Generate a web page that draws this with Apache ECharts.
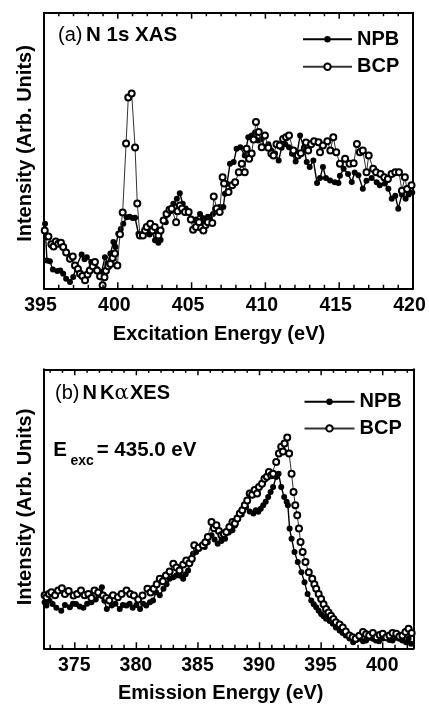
<!DOCTYPE html>
<html><head><meta charset="utf-8">
<script src="https://cdn.jsdelivr.net/npm/echarts@6/dist/echarts.min.js"></script>
<style>html,body{margin:0;padding:0;background:#fff}#c{width:429px;height:705px}</style>
</head><body><div id="c"></div>
<script>
// ---- Data (energy eV, intensity arb. units 0-100) ----
const xasNPB = [[395.07,23.4],[395.2,10.1],[395.4,9.8],[395.6,6.8],[395.9,6.3],[396.1,6.5],[396.3,5.3],[396.5,3.5],[396.76,2.3],[396.98,4.1],[397.2,8],[397.55,12.3],[397.75,10.5],[397.9,11.3],[398.2,9.5],[398.5,7.5],[398.7,6],[398.9,5.9],[399.13,11.3],[399.3,9],[399.5,12.6],[399.7,16.8],[399.85,15],[400.03,19.8],[400.2,21.5],[400.37,23.4],[400.6,25.8],[400.8,26],[401.0,25.5],[401.17,25.6],[401.4,19.8],[401.6,19],[401.8,20.5],[401.96,21.6],[402.15,19.5],[402.3,21],[402.52,17.4],[402.75,16.5],[402.9,17.5],[403.08,24.6],[403.25,24],[403.4,27],[403.6,28],[403.76,30.7],[404.0,32.5],[404.2,34.5],[404.4,30.7],[404.6,29],[404.8,27.7],[405.1,24.6],[405.3,25],[405.57,27],[405.75,25.5],[405.9,24.6],[406.1,26],[406.25,25.8],[406.45,27],[406.6,28.9],[406.9,29.5],[407.15,29.5],[407.26,34.3],[407.4,37.9],[407.6,45.2],[407.85,45.8],[408.05,50.6],[408.3,51.2],[408.6,48.2],[408.84,54.8],[409.07,55.4],[409.3,56.5],[409.5,53.6],[409.75,54.2],[409.97,51.2],[410.2,52.3],[410.4,50],[410.65,48.9],[410.9,46.4],[411.1,51],[411.35,52.3],[411.6,51.2],[411.8,48.8],[412.05,46],[412.35,55.4],[412.6,51],[412.8,45.8],[413.0,44],[413.25,46.4],[413.5,38.2],[413.7,40],[413.9,44],[414.1,40],[414.38,39.1],[414.7,38.5],[414.95,38.2],[415.05,40.8],[415.3,43.4],[415.6,41.5],[415.85,38.6],[416.05,42],[416.3,41],[416.6,36.1],[416.85,39],[417.2,40],[417.54,38.5],[417.75,37.4],[418.1,38],[418.33,36.1],[418.56,32.5],[418.8,33.6],[419.0,28.9],[419.25,34],[419.5,32.5],[419.7,34],[419.95,34.8]];
const xasBCP = [[395.05,21],[395.3,18.8],[395.5,16],[395.65,15.2],[395.8,17],[395.97,16.2],[396.15,16.5],[396.3,15],[396.5,13],[396.76,10.7],[396.95,11.5],[397.1,8.3],[397.3,7],[397.44,5.3],[397.6,4.5],[397.78,2.9],[397.95,5],[398.1,6.5],[398.3,8],[398.45,9.5],[398.6,6.5],[398.8,4.4],[398.97,1.1],[399.1,4],[399.2,6.4],[399.35,8],[399.5,8.8],[399.65,11],[399.8,12.6],[399.97,8.3],[400.15,19.6],[400.33,27.5],[400.56,52.5],[400.71,69.2],[400.94,70.7],[401.17,51.1],[401.32,30.8],[401.5,19.2],[401.7,19.2],[401.85,21],[401.96,22.2],[402.2,23.4],[402.35,21],[402.5,22.2],[402.75,19.2],[402.9,21],[403.1,24.6],[403.3,27],[403.5,28.5],[403.65,28.9],[403.95,24],[404.05,28],[404.2,30],[404.35,29],[404.55,27.7],[404.8,27.7],[404.95,25],[405.1,21.2],[405.3,22.2],[405.5,24],[405.65,22],[405.8,21],[405.95,23],[406.1,24],[406.4,23.7],[406.5,33.3],[406.7,29],[406.9,27.7],[407.1,40.3],[407.2,38],[407.5,34.9],[407.75,37.4],[407.95,38.5],[408.2,42.1],[408.4,45.2],[408.6,42.1],[408.73,50.6],[408.9,47],[409.07,48.9],[409.2,54],[409.36,60.3],[409.55,56.7],[409.75,51.2],[409.97,55.4],[410.2,51],[410.4,48.9],[410.55,48.2],[410.75,52.3],[410.97,51.8],[411.2,54.2],[411.4,54.8],[411.6,55.4],[411.9,50],[412.2,48.2],[412.4,49],[412.75,52.9],[412.9,50],[413.1,52.3],[413.3,53.4],[413.6,53],[413.7,49.4],[413.9,51.8],[414.2,53.4],[414.4,50],[414.6,54.8],[414.8,49.4],[415.05,45.2],[415.4,47],[415.7,45.2],[415.98,45.4],[416.2,52.4],[416.4,49.4],[416.6,50],[416.85,42.1],[417.0,48.2],[417.3,43.4],[417.5,42.1],[417.8,41.5],[418.05,40.3],[418.3,39.7],[418.55,41.5],[418.8,42.1],[419.05,42.1],[419.25,35.4],[419.45,40.3],[419.6,36],[419.9,37.4]];
const xesNPB = [[372.55,16.5],[372.7,15.3],[372.95,17],[373.2,15.9],[373.5,14.5],[373.9,13.5],[374.2,15.5],[374.6,14.7],[374.85,16],[375.1,15.9],[375.4,15],[375.7,14.5],[376.0,16],[376.35,16.5],[376.7,17.5],[376.95,19],[377.2,21.9],[377.4,17],[377.6,14.1],[378.0,15.3],[378.3,16],[378.65,14.1],[378.9,15.5],[379.2,15.3],[379.45,16],[379.7,14.5],[380.0,15.5],[380.3,14.1],[380.55,16],[380.8,15.3],[381.1,16.5],[381.35,17.1],[381.6,20.1],[381.9,19],[382.2,21.3],[382.45,23],[382.7,24.9],[383.0,25.5],[383.25,26.1],[383.55,26],[383.8,24.9],[384.0,26.5],[384.2,27.9],[384.4,31],[384.6,33.9],[384.85,34.5],[385.1,35.7],[385.35,37],[385.55,36.3],[385.8,38],[386.1,40.5],[386.35,39],[386.6,37.5],[386.9,38.5],[387.2,39.3],[387.5,41.5],[387.8,42.3],[388.0,44],[388.25,47.1],[388.55,48],[388.9,50.6],[389.2,49],[389.5,48.3],[389.7,49.5],[389.9,48.9],[390.1,50],[390.3,51.3],[390.5,52.5],[390.7,54.2],[390.9,56],[391.1,57.8],[391.35,61.4],[391.55,62.6],[391.76,57.8],[392.0,54.2],[392.2,52.5],[392.3,51.3],[392.44,42.9],[392.6,39.3],[392.84,34.5],[393.1,30.9],[393.4,27.3],[393.65,23.7],[393.9,19.5],[394.2,17.1],[394.4,15.8],[394.6,14.7],[394.8,13.5],[395.0,12.3],[395.2,11.5],[395.4,10.6],[395.7,9.8],[395.95,8.8],[396.2,7.5],[396.5,6.4],[396.75,5.5],[397.0,4.6],[397.3,3.5],[397.6,2.2],[397.85,3],[398.1,3.4],[398.4,2.5],[398.65,2.8],[398.9,3.8],[399.2,3.4],[399.45,2.8],[399.7,2.5],[400.0,3.5],[400.3,4.0],[400.55,3],[400.8,2.8],[401.1,3.8],[401.35,3.4],[401.6,2.8],[401.9,2.2],[402.1,3.5],[402.3,1.6]];
const xesBCP = [[372.55,19],[372.7,18.3],[372.9,19.5],[373.1,20.1],[373.4,19],[373.65,20.7],[373.95,21.5],[374.2,19.5],[374.5,20.5],[374.9,18.9],[375.2,19.5],[375.5,20.7],[375.8,19],[376.1,19.5],[376.35,18],[376.6,20.7],[376.9,20],[377.3,18.9],[377.55,18],[377.8,17.1],[378.1,19],[378.5,18.3],[378.8,19.5],[379.2,20.7],[379.5,19.5],[379.8,18.9],[380.15,17.5],[380.5,18.9],[380.9,21.3],[381.15,20],[381.4,21.3],[381.65,23],[381.9,24.9],[382.15,24],[382.4,26.1],[382.7,27.5],[383.0,30.3],[383.25,29],[383.5,27.9],[383.8,30],[384.05,31.5],[384.3,30.5],[384.5,32.1],[384.7,36.9],[385.05,36],[385.4,36.9],[385.6,38],[385.8,39.9],[386.1,45.3],[386.3,43],[386.5,44.1],[386.7,42],[386.9,40.5],[387.1,41],[387.3,41.7],[387.55,43.5],[387.8,45.3],[388.0,44.7],[388.2,46.5],[388.4,48.3],[388.6,49.5],[388.8,51.3],[389.0,53],[389.2,55.5],[389.4,55],[389.6,56.7],[389.8,55.5],[389.95,57.8],[390.2,59],[390.4,60.8],[390.6,61.5],[390.76,63.2],[390.95,62],[391.1,62.6],[391.35,66.8],[391.57,69.8],[391.76,72.2],[391.9,70.5],[392.03,73.4],[392.25,75.6],[392.4,69.8],[392.6,62.6],[392.76,56],[392.9,51.3],[393.06,47.7],[393.2,42.9],[393.33,38.1],[393.5,34.5],[393.73,30.9],[394.0,27.3],[394.28,24.9],[394.45,23],[394.6,21.3],[394.8,19.5],[395.0,17.7],[395.2,15.8],[395.4,14.1],[395.6,12.8],[395.8,11.7],[396.0,10.5],[396.2,9.3],[396.5,8.5],[396.76,7.5],[397.0,6],[397.3,4.6],[397.55,4],[397.8,3.4],[398.1,4.5],[398.4,5.8],[398.65,5],[398.9,4.6],[399.2,5.5],[399.5,4.0],[399.75,4.8],[400.0,5.2],[400.3,4],[400.55,4.6],[400.8,5.5],[401.1,5.2],[401.35,4.2],[401.6,4.6],[401.85,5.8],[402.1,7.0],[402.35,5.5]];

// ---- Axis ranges and tick labels ----
const xasRange = [395, 420];
const xesRange = [372.5, 402.5];
const xasMajor = [395, 400, 405, 410, 415, 420];
const xasMinor = [396,397,398,399,401,402,403,404,406,407,408,409,411,412,413,414,416,417,418,419];
const xesMajor = [375, 380, 385, 390, 395, 400];
const xesMinor = [373,374,376,377,378,379,381,382,383,384,386,387,388,389,391,392,393,394,396,397,398,399,401,402];
const yRange = [0, 100];
const seriesNames = ['NPB', 'BCP'];

const FONT = '"Liberation Sans", Arial, Helvetica, sans-serif';
const FRAME = { color: '#000', width: 2 };

const grids = [], xAxis = [], yAxis = [];
function panel(rect, range, major, labelPad) {
  const gi = grids.length;
  grids.push(rect);
  ['bottom', 'top'].forEach((pos) => {
    xAxis.push({
      gridIndex: gi, type: 'value', min: range[0], max: range[1], position: pos,
      axisLine: { show: true, onZero: false, lineStyle: FRAME },
      splitLine: { show: false }, axisTick: { show: false },
      axisLabel: pos === 'bottom' ? { show: true, customValues: major, color: '#000', fontSize: 19.5, fontWeight: 'bold', fontFamily: FONT, margin: 7.5, padding: labelPad } : { show: false }
    });
  });
  ['left', 'right'].forEach((pos) => {
    yAxis.push({
      gridIndex: gi, type: 'value', min: yRange[0], max: yRange[1], position: pos,
      axisLine: { show: true, onZero: false, lineStyle: FRAME },
      axisTick: { show: false }, axisLabel: { show: false }, splitLine: { show: false }
    });
  });
  return { x: gi * 2, y: gi * 2 };
}
const pA = panel({ left: 44, top: 12.7, width: 369, height: 275.6 }, xasRange, xasMajor, [0, 7, 0, 0]);
const pB = panel({ left: 44, top: 369.3, width: 369.5, height: 279 }, xesRange, xesMajor, [0, 1, 0, 0]);

function txt(x, y, text, size, weight, align, extra, family) {
  return Object.assign({
    type: 'text', x: x, y: y, silent: true,
    style: { text: text, fontSize: size, fontWeight: weight, fontFamily: family || FONT, fill: '#000',
      align: align, verticalAlign: 'middle', textAlign: align, textVerticalAlign: 'middle' }
  }, extra || {});
}

function mkSeries(name, data, p) {
  const isN = name === 'NPB';
  return {
    name: name, type: 'line', data: data, xAxisIndex: p.x, yAxisIndex: p.y,
    symbol: isN ? 'circle' : 'emptyCircle', symbolSize: 6, showAllSymbol: true,
    lineStyle: { color: isN ? '#000' : '#333', width: isN ? 1.4 : 1 },
    itemStyle: { color: '#000' },
    z: isN ? 2 : 3, animation: false
  };
}

const legendBase = {
  data: seriesNames, orient: 'vertical', padding: 0, itemHeight: 8, selectedMode: false,
  textStyle: { fontSize: 20, fontWeight: 'bold', fontFamily: FONT, color: '#000', lineHeight: 20 }
};

const texts = [
  txt(58, 35.5, '(a)', 20, 'normal', 'left'),
  txt(86, 35.5, 'N 1s XAS', 20.5, 'bold', 'left'),
  txt(55, 393.5, '(b)', 20, 'normal', 'left'),
  txt(82.5, 393.5, 'N', 20, 'bold', 'left'),
  txt(100, 393.5, 'K', 20, 'bold', 'left'),
  txt(114.5, 393.5, 'α', 21, 'normal', 'left', null, '"DejaVu Serif", "Liberation Serif", serif'),
  txt(130, 393.5, 'XES', 20, 'bold', 'left'),
  txt(53.3, 450, 'E', 20.5, 'bold', 'left'),
  txt(70.5, 461, 'exc', 14, 'bold', 'left'),
  txt(96.7, 450, '= 435.0 eV', 20.5, 'bold', 'left'),
  txt(219, 334.3, 'Excitation Energy (eV)', 20, 'bold', 'center'),
  txt(220.7, 693, 'Emission Energy (eV)', 20, 'bold', 'center'),
  txt(25, 143.5, 'Intensity (Arb. Units)', 20, 'bold', 'center', { rotation: Math.PI / 2 }),
  txt(25, 507, 'Intensity (Arb. Units)', 20, 'bold', 'center', { rotation: Math.PI / 2 })
];

const chart = echarts.init(document.getElementById('c'), null, { renderer: 'canvas' });
chart.setOption({
  animation: false,
  backgroundColor: '#fff',
  grid: grids,
  xAxis: xAxis,
  yAxis: yAxis,
  legend: [
    Object.assign({}, legendBase, { left: 302, top: 29.3, itemWidth: 49, itemGap: 7.4 }),
    Object.assign({}, legendBase, { left: 303.5, top: 391.7, itemWidth: 50, itemGap: 6.7 })
  ],
  series: [
    mkSeries('NPB', xasNPB, pA),
    mkSeries('BCP', xasBCP, pA),
    mkSeries('NPB', xesNPB, pB),
    mkSeries('BCP', xesBCP, pB)
  ],
  graphic: texts
});

// Inward tick marks: positions come from the chart's own axis scales (convertToPixel)
function tickLines(p, ticks, len) {
  const out = [];
  ticks.forEach((v) => {
    const b = chart.convertToPixel({ xAxisIndex: p.x, yAxisIndex: p.y }, [v, yRange[0]]);
    const t = chart.convertToPixel({ xAxisIndex: p.x, yAxisIndex: p.y }, [v, yRange[1]]);
    if (!b || !t) return;
    out.push({ type: 'line', silent: true, z: 50, shape: { x1: b[0], y1: b[1], x2: b[0], y2: b[1] - len }, style: { stroke: '#000', lineWidth: 1.5 } });
    out.push({ type: 'line', silent: true, z: 50, shape: { x1: t[0], y1: t[1], x2: t[0], y2: t[1] + len }, style: { stroke: '#000', lineWidth: 1.5 } });
  });
  return out;
}
const ticks = [].concat(
  tickLines(pA, xasMajor, 6), tickLines(pA, xasMinor, 3.5),
  tickLines(pB, xesMajor, 6), tickLines(pB, xesMinor, 3.5)
);
chart.setOption({ graphic: texts.concat(ticks) }, { replaceMerge: ['graphic'] });
</script></body></html>
